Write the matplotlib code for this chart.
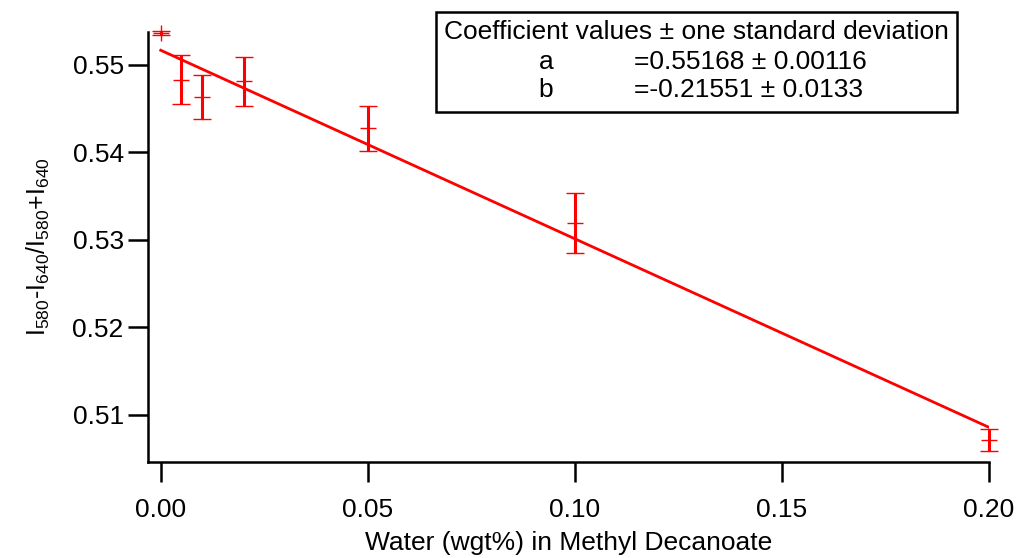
import numpy as np
import matplotlib
matplotlib.use("Agg")
import matplotlib.pyplot as plt
from matplotlib.patches import Rectangle

plt.rcParams['font.family'] = ['Liberation Sans', 'DejaVu Sans']
plt.rcParams['mathtext.fontset'] = 'custom'
plt.rcParams['mathtext.rm'] = 'Liberation Sans'

# measured data (water wgt%, ratio, one std dev)
water = [0.0, 0.005, 0.01, 0.02, 0.05, 0.10, 0.20]
ratio = [0.55366, 0.54829, 0.54634, 0.54811, 0.54274, 0.53194, 0.50714]
ratio_err = [0.00027, 0.0028, 0.00251, 0.00282, 0.0026, 0.00346, 0.00122]

# linear fit coefficients
fit_a = 0.55168
fit_b = -0.21551
fit_a_err = 0.00116
fit_b_err = 0.0133

x_ticks = [0.00, 0.05, 0.10, 0.15, 0.20]
y_ticks = [0.51, 0.52, 0.53, 0.54, 0.55]

red = '#ff0000'
fs = 19

fig = plt.figure(figsize=(10.16, 5.58), dpi=100)
ax = fig.add_axes([0.1457, 0.1729, 0.8277, 0.7698])

xf = np.linspace(0, 0.2, 50)
ax.plot(xf, fit_a + fit_b * xf, color=red, lw=2.0, zorder=2)

ax.errorbar(water, ratio, yerr=ratio_err, fmt='+', color=red, ms=11, mew=1.0,
            ecolor=red, elinewidth=2.2, capsize=6.2, capthick=2.2, clip_on=False,
            zorder=3)

ax.set_xlim(-0.00307, 0.2)
ax.set_ylim(0.50467, 0.55377)
ax.set_xticks(x_ticks)
ax.set_xticklabels([f"{t:.2f}" for t in x_ticks])
ax.set_yticks(y_ticks)
ax.set_yticklabels([f"{t:.2f}" for t in y_ticks])

for s in ['top', 'right']:
    ax.spines[s].set_visible(False)
for s in ['left', 'bottom']:
    ax.spines[s].set_linewidth(1.8)
ax.tick_params(axis='both', direction='out', length=14.5, width=1.8,
               labelsize=fs)
ax.tick_params(axis='x', pad=12)
ax.tick_params(axis='y', pad=3)

ax.set_xlabel("Water (wgt%) in Methyl Decanoate", fontsize=fs, labelpad=6)
ax.set_ylabel(r"$\mathregular{I_{580}\text{-}I_{640}/I_{580}\text{+}I_{640}}$",
              fontsize=18, labelpad=15)

# coefficient box
fig.patches.append(Rectangle((436 / 1016, 1 - 112 / 558), 521 / 1016, 100 / 558,
                             transform=fig.transFigure, fill=False,
                             edgecolor='black', lw=1.8))
fig.text(696 / 1016, 1 - 32 / 558, "Coefficient values \u00b1 one standard deviation",
         ha='center', va='center', fontsize=fs)
fig.text(546 / 1016, 1 - 62 / 558, "a", ha='center', va='center', fontsize=fs)
fig.text(634 / 1016, 1 - 62 / 558, f"={fit_a:.5f} \u00b1 {fit_a_err:.5f}",
         ha='left', va='center', fontsize=fs)
fig.text(546 / 1016, 1 - 90 / 558, "b", ha='center', va='center', fontsize=fs)
fig.text(634 / 1016, 1 - 90 / 558, f"={fit_b:.5f} \u00b1 {fit_b_err:.4f}",
         ha='left', va='center', fontsize=fs)

fig.savefig("out.png", dpi=100)
